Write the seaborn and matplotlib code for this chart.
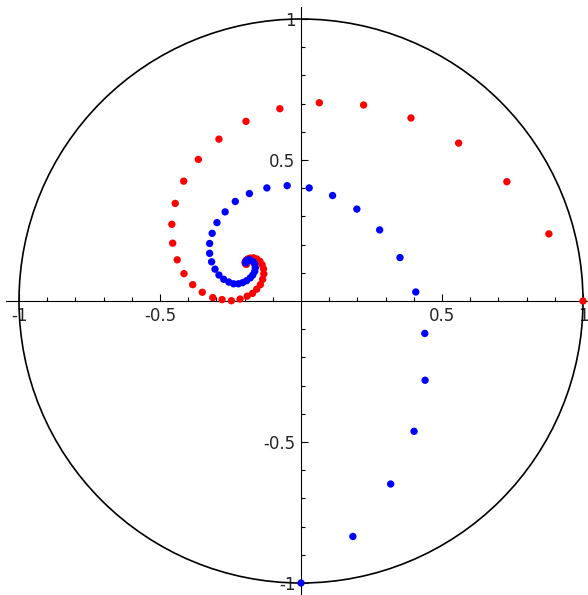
import numpy as np
import pandas as pd
import seaborn as sns
import matplotlib.pyplot as plt
from matplotlib.patches import Circle
from matplotlib.ticker import MultipleLocator, FixedLocator

# points (red spiral starts at 1, blue at -i)
red_x = [1.0, 0.879, 0.730, 0.559, 0.390, 0.222, 0.065, -0.075, -0.195, -0.291,
         -0.364, -0.416, -0.446, -0.458, -0.455, -0.439, -0.415, -0.384, -0.350,
         -0.313, -0.280, -0.247, -0.216, -0.191, -0.172, -0.157, -0.144, -0.136,
         -0.132, -0.133, -0.138, -0.146, -0.157, -0.169, -0.180, -0.189, -0.195,
         -0.198, -0.198, -0.196, -0.193]
red_y = [0.0, 0.238, 0.423, 0.560, 0.649, 0.695, 0.703, 0.682, 0.637, 0.574,
         0.502, 0.425, 0.346, 0.272, 0.205, 0.146, 0.097, 0.058, 0.031,
         0.012, 0.005, 0.001, 0.007, 0.017, 0.027, 0.042, 0.058, 0.077,
         0.096, 0.114, 0.129, 0.141, 0.149, 0.153, 0.152, 0.149, 0.144,
         0.139, 0.134, 0.131, 0.130]
blue_x = [0.0, 0.184, 0.318, 0.401, 0.440, 0.439, 0.407, 0.351, 0.279, 0.198,
          0.112, 0.029, -0.049, -0.121, -0.183, -0.233, -0.269, -0.298, -0.315,
          -0.324, -0.324, -0.317, -0.305, -0.291, -0.274, -0.256, -0.239, -0.222,
          -0.207, -0.193, -0.180, -0.171, -0.164, -0.162, -0.164, -0.170, -0.179,
          -0.187, -0.193, -0.196, -0.196]
blue_y = [-1.0, -0.835, -0.649, -0.462, -0.281, -0.115, 0.032, 0.154, 0.252, 0.326,
          0.374, 0.401, 0.409, 0.401, 0.381, 0.353, 0.316, 0.278, 0.240,
          0.204, 0.169, 0.139, 0.113, 0.092, 0.077, 0.067, 0.061, 0.061,
          0.065, 0.072, 0.082, 0.092, 0.105, 0.118, 0.130, 0.139, 0.145,
          0.146, 0.143, 0.139, 0.135]

df = pd.concat([
    pd.DataFrame({"x": red_x, "y": red_y, "s": "red"}),
    pd.DataFrame({"x": blue_x, "y": blue_y, "s": "blue"}),
], ignore_index=True)

sns.set_style("white")
plt.rcParams['font.family'] = ['DejaVu Sans']

fig = plt.figure(figsize=(5.88, 5.95), dpi=100)
ax = fig.add_axes([0, 0, 1, 1])

ax.add_patch(Circle((0, 0), 1, fill=False, color="black", lw=1.2, zorder=2))
sns.scatterplot(data=df, x="x", y="y", hue="s", palette={"red": "#ff0000", "blue": "#0000ff"},
                s=28, linewidth=0, legend=False, ax=ax, zorder=3, clip_on=False)

ax.set_xlim(-301 / 282, 287 / 282)
ax.set_ylim(-294 / 282, 301 / 282)
ax.set_aspect("auto")
ax.set(xlabel="", ylabel="")

for side in ["top", "right"]:
    ax.spines[side].set_visible(False)
ax.spines["left"].set_position("zero")
ax.spines["bottom"].set_position("zero")
for side in ["left", "bottom"]:
    ax.spines[side].set_color("black")
    ax.spines[side].set_linewidth(0.8)
    ax.spines[side].set_zorder(1)
ax.spines["left"].set_bounds(-294 / 282, 294 / 282)
ax.spines["bottom"].set_bounds(-295 / 282, 287 / 282)

ax.xaxis.set_major_locator(FixedLocator([-1, -0.5, 0.5, 1]))
ax.yaxis.set_major_locator(FixedLocator([-1, -0.5, 0.5, 1]))
minors = [v / 10 for v in range(-10, 11) if v not in (-10, -5, 0, 5, 10)]
ax.xaxis.set_minor_locator(FixedLocator(minors))
ax.yaxis.set_minor_locator(FixedLocator(minors))
ax.set_xticklabels(["-1", "-0.5", "0.5", "1"])
ax.set_yticklabels(["-1", "-0.5", "0.5", "1"])
ax.tick_params(which="major", direction="in", length=5, width=0.8, color="black",
               labelsize=12, pad=4, bottom=True, left=True)
ax.tick_params(which="minor", direction="in", length=3, width=0.8, color="black",
               bottom=True, left=True)

fig.savefig("out.png", dpi=100)
